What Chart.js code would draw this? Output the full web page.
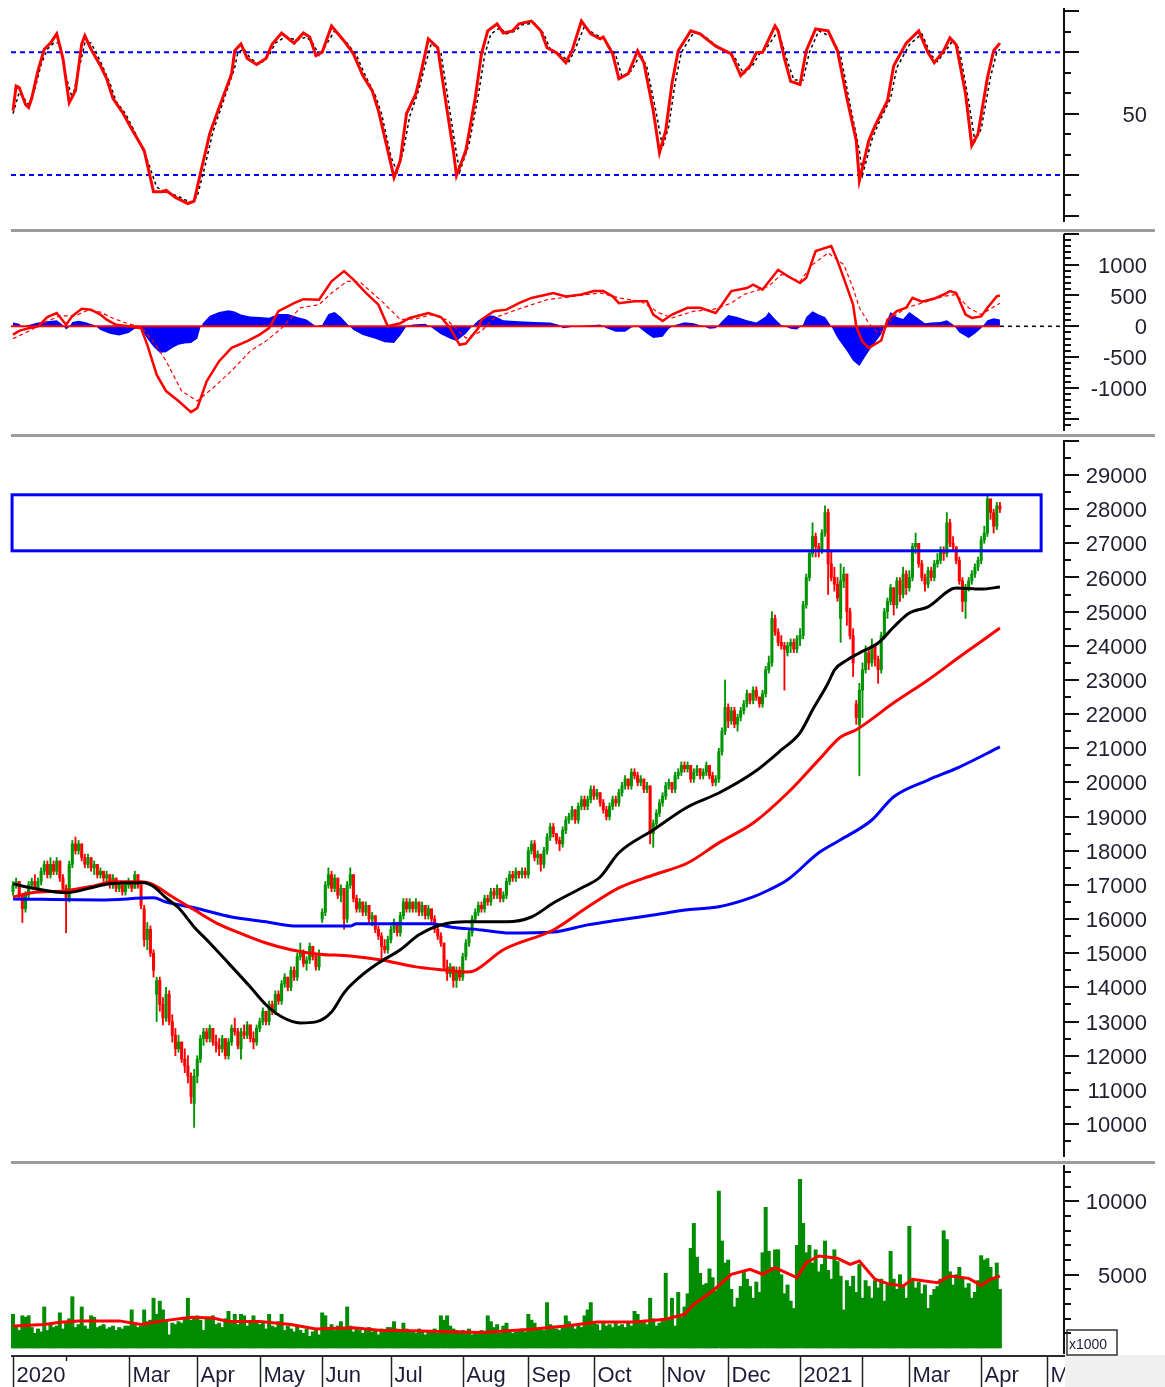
<!DOCTYPE html>
<html>
<head>
<meta charset="utf-8">
<title>Price chart</title>
<script src="https://cdn.jsdelivr.net/npm/chart.js@4.4.1/dist/chart.umd.min.js"></script>
<style>
body{margin:0;background:#fff;width:1165px;height:1387px;position:relative;overflow:hidden}
canvas{position:absolute;left:0}
.sep{position:absolute;left:11px;width:1144px;height:3px;background:#9c9c9c}
</style>
</head>
<body>
<canvas id="rsi" width="1165" height="229" style="top:0"></canvas>
<div class="sep" style="top:229px"></div>
<canvas id="macd" width="1165" height="202" style="top:232px"></canvas>
<div class="sep" style="top:434px"></div>
<canvas id="price" width="1165" height="724" style="top:437px"></canvas>
<div class="sep" style="top:1161px"></div>
<canvas id="vol" width="1165" height="223" style="top:1164px"></canvas>
<script>
// trading day index 0 = first session of Jan 2020
const monthStarts = [0, 17, 37, 59, 79, 99, 121, 144, 165, 186, 208, 229, 252, 272, 287, 310, 331]
const monthLabels = ["2020", "", "Mar", "Apr", "May", "Jun", "Jul", "Aug", "Sep", "Oct", "Nov", "Dec", "2021", "", "Mar", "Apr", "May"]

// daily candles, one line per month
const opens = [
16800,17000,17100,16700,16300,16700,17000,17100,16900,17100,17400,17600,17300,17600,17400,17700,17200,
16900,16600,17600,18200,18000,18200,17800,17600,17800,17500,17600,17300,17400,17200,17300,17000,17200,16900,17000,16800,
17000,17100,16900,17300,17000,16300,15400,15700,15000,13800,14200,13500,13100,13800,13000,12600,12200,12400,11900,11700,11400,10600,
11400,11900,12500,12700,12500,12800,12400,12300,12200,12500,12000,12400,12800,12700,12200,12700,12600,12900,12500,12400,
12800,13000,13300,13000,13500,13300,13800,13600,14100,14300,14000,14500,14300,14900,15000,14700,14800,15200,14900,14600,
16000,16200,17000,17300,16900,17200,16700,16900,16000,17000,17300,16600,16300,16500,16200,16400,16000,16100,15700,15500,15200,15100,
15400,15700,15900,15600,16100,16500,16300,16500,16300,16500,16200,16400,16100,16300,16000,15700,15500,15300,14600,14400,14600,14200,14500,
14300,14900,15300,15600,16000,16200,16400,16300,16600,16500,16800,16700,16900,16600,16700,17100,17300,17200,17400,17300,17400,
17300,18000,18200,17800,17900,17600,18000,18400,18700,18500,18300,18200,18600,18900,19000,19200,18900,19300,19500,19300,19500,
19800,19600,19700,19400,19200,19000,19300,19500,19400,19700,19900,20100,19900,20300,20200,20000,20100,19800,19900,18500,18800,19100,
19400,19600,19900,20000,19800,20200,20300,20500,20400,20500,20100,20300,20400,20200,20300,20500,20200,20000,20100,20900,21500,
22200,21800,22100,21700,21900,22100,22300,22600,22400,22700,22500,22300,22600,23300,23500,24800,24400,24100,24000,23800,24000,24100,23900,
24200,24300,25200,26000,26700,27200,26900,26800,27300,27900,26400,26000,25800,24800,25900,26100,25000,24300,22300,21700,
22700,23300,23800,23500,24000,23600,23300,24300,25000,25300,25700,25200,25900,25500,26100,
25700,26000,26900,27000,26400,26000,25800,26200,26000,26400,26500,26800,26700,27600,27000,26900,26500,25900,25300,25700,25900,26100,26300,
26500,27100,27300,28300,27900,27500,28100]
const highs = [
17100,17200,17100,16700,16800,17100,17200,17300,17200,17500,17700,17700,17800,17700,17800,17700,17300,
17000,17700,18300,18400,18300,18200,17900,17900,17800,17700,17600,17500,17400,17400,17300,17300,17200,17100,17000,17100,
17200,17100,17400,17300,17000,16400,15900,15800,15100,14300,14300,13700,14000,13900,13200,12800,12600,12400,12200,12000,11500,11600,
12000,12600,12800,12800,12900,12800,12600,12500,12600,12500,12500,12900,13100,12800,12800,12900,13000,12900,12700,12900,
13100,13400,13300,13600,13600,13900,13900,14200,14400,14300,14600,14600,15000,15300,15100,14900,15300,15200,15000,15100,
16300,17100,17500,17400,17300,17200,17000,16900,17100,17500,17300,16700,16600,16500,16500,16400,16200,16100,15800,15600,15400,15500,
15800,16000,15900,16200,16600,16600,16600,16500,16600,16500,16500,16400,16400,16300,16100,15800,15600,15300,14800,14700,14600,14600,14600,
15000,15400,15700,16100,16300,16500,16500,16700,16700,16900,16900,17000,16900,16800,17200,17400,17400,17500,17400,17500,17500,
18100,18300,18300,18000,17900,18100,18500,18800,18800,18500,18400,18700,19000,19100,19300,19200,19400,19600,19600,19600,19900,
19900,19800,19700,19500,19300,19400,19600,19600,19800,20000,20200,20100,20400,20400,20300,20200,20100,20000,19900,18900,19200,19500,
19700,20000,20100,20000,20300,20400,20600,20600,20600,20500,20400,20500,20400,20400,20600,20500,20300,20200,21000,21600,23000,
22300,22200,22200,22000,22200,22400,22700,22600,22800,22800,22500,22700,23400,23700,25000,24900,24500,24300,24100,24100,24200,24200,24300,
24500,25300,26100,26800,27600,27300,27000,27400,28100,28000,26800,26300,26000,26400,26300,26100,25100,24500,22400,22900,
23500,24000,23900,24200,24000,23700,24400,25100,25400,25800,25700,26000,26000,26300,26200,
26200,27000,27300,27000,26500,26100,26300,26300,26500,26700,26900,26900,27900,27700,27200,26900,26600,26000,25800,26000,26200,26400,26600,
27200,27500,28400,28300,28000,28200,28200]
const lows = [
16700,16900,16600,15900,16200,16600,16900,16900,16800,17000,17300,17200,17200,17300,17300,17100,16800,
15600,16500,17500,17900,17900,17700,17500,17500,17400,17300,17200,17200,17100,17100,16900,16900,16800,16800,16700,16700,
16900,16800,16900,16900,16300,15200,15100,14900,14300,13000,13300,12900,13000,12900,12400,12000,12100,11800,11500,11200,10600,9900,
11200,11800,12300,12400,12400,12300,12100,12000,12100,11900,11900,12300,12600,12200,11900,12500,12500,12400,12200,12300,
12700,12900,12900,12900,13200,13200,13500,13500,14000,13900,13900,14200,14200,14800,14600,14500,14700,14800,14500,14500,
15900,16100,16900,16800,16800,16600,16500,15700,15900,16900,16500,16200,16200,16100,16100,15900,15800,15600,15400,14800,15000,15000,
15300,15600,15500,15500,16000,16200,16200,16200,16200,16100,16100,16000,16000,15900,15600,15400,15200,14500,14200,14300,14000,14000,14200,
14200,14800,15200,15500,15900,16100,16200,16200,16400,16400,16600,16600,16500,16500,16600,17000,17100,17100,17200,17200,17200,
17200,17900,17700,17600,17400,17500,17900,18300,18400,18200,18000,18100,18500,18800,18900,18800,18800,19200,19200,19200,19400,
19500,19500,19300,19100,18900,18900,19200,19300,19300,19600,19800,19800,19800,20100,19900,19900,19700,19700,18200,18100,18700,19000,
19300,19500,19800,19700,19700,20100,20200,20300,20300,20000,20000,20200,20100,20100,20200,20100,19900,19900,20000,20800,21400,
21600,21700,21600,21500,21800,22000,22200,22300,22300,22400,22200,22200,22500,23200,23400,24300,24000,23900,22700,23700,23800,23800,23800,
24000,24200,25100,25900,26600,26600,26600,26700,27200,25500,25900,25600,25300,24100,25700,24600,24200,23100,21700,20200,
21900,23200,23300,23400,23400,22900,23200,24200,24800,25200,24900,25100,25300,25400,25500,
25600,25900,26700,26300,25900,25600,25700,25900,25900,26300,26400,26500,26600,26900,26800,26400,25800,25000,24800,25600,25800,26000,26200,
26400,27000,27200,27700,27300,27400,27900]
const closes = [
17000,17100,16700,16300,16700,17000,17100,16900,17100,17400,17600,17300,17600,17400,17700,17200,16900,
16600,17600,18200,18000,18200,17800,17600,17800,17500,17600,17300,17400,17200,17300,17000,17200,16900,17000,16800,17000,
17100,16900,17300,17000,16400,15400,15700,15000,14500,14200,13500,13100,13800,13000,12600,12200,12400,11900,11700,11400,10800,11400,
11900,12500,12700,12500,12800,12400,12300,12200,12500,12000,12400,12800,12700,12300,12700,12600,12900,12500,12400,12800,
13000,13300,13000,13500,13300,13800,13600,14100,14300,14000,14500,14300,14900,15000,14700,14800,15200,14900,14600,15000,
16200,17000,17300,16900,17200,16700,16900,16000,17000,17300,16600,16300,16500,16200,16400,16000,16100,15700,15500,15200,15100,15400,
15700,15900,15600,16100,16500,16300,16500,16300,16500,16200,16400,16100,16300,16000,15700,15500,15300,14600,14400,14600,14200,14500,14300,
14900,15300,15600,16000,16200,16400,16300,16600,16500,16800,16700,16900,16600,16700,17100,17300,17200,17400,17300,17400,17300,
18000,18200,17800,17900,17600,18000,18400,18700,18500,18300,18200,18600,18900,19000,19200,18900,19300,19500,19300,19500,19800,
19600,19700,19400,19200,19000,19300,19500,19400,19700,19900,20100,19900,20300,20200,20000,20100,19800,19900,18500,18800,19100,19400,
19600,19900,20000,19800,20200,20300,20500,20400,20500,20100,20300,20400,20200,20300,20500,20200,20000,20100,20900,21500,22200,
21800,22100,21700,21900,22100,22300,22600,22400,22700,22500,22300,22600,23300,23500,24800,24400,24100,24000,23900,24000,24100,23900,24200,
24300,25200,26000,26700,27200,26900,26800,27300,27900,26400,26000,25800,25400,25900,26100,25000,24300,23500,21900,22700,
23300,23800,23500,24000,23600,23300,24300,25000,25300,25700,25200,25900,25500,26100,25700,
26000,26900,27000,26400,26000,25800,26200,26000,26400,26500,26800,26700,27600,27000,26900,26500,25900,25300,25700,25900,26100,26300,26500,
27100,27300,28300,27900,27500,28100,28000]

// volume in thousands of shares
const volumes = [
2300,1500,1200,2200,2100,2200,1400,1000,1300,1100,2800,1200,1600,1400,1500,2400,1300,
1700,2000,3500,1400,1600,2800,1500,1300,2200,2100,1400,1500,1600,1300,1400,1500,1200,1400,1300,1500,
1500,2600,1700,1400,1500,2600,1800,1900,3400,2300,3200,2600,1800,900,1700,1600,1800,1700,2000,3400,1900,2100,
2200,1900,1200,2100,2000,2200,1600,1700,1400,2000,2500,1800,2300,1600,2300,2200,1500,1700,2200,1800,
1600,1700,1300,2300,1500,1400,1800,2300,1200,1500,1300,1100,1500,1200,1000,1300,800,1100,1200,900,
2400,2200,1400,1600,1200,1500,1800,1300,2800,1500,1100,1300,1200,1000,1300,1400,1100,1200,900,1300,1200,1400,
1400,1800,1300,1200,1700,1300,1100,1200,1000,1300,1100,900,1200,1100,1300,1000,2200,1900,2200,1500,1300,1200,1100,
1200,1100,1300,900,1000,1100,1200,1000,2200,1800,1400,1600,1000,1500,1700,1200,1000,1100,1200,1300,1100,
2300,1900,1700,1300,1400,1200,3100,1600,1500,1300,1200,1400,2200,1800,1500,1300,1600,1400,2200,2600,3100,
1800,1600,1200,1700,1500,1600,1400,1800,1500,1600,1400,1700,1500,2500,2300,1800,1900,1600,3400,2000,1500,1700,
2000,5100,1900,3400,1500,3800,2100,2800,3700,6800,8500,6200,5100,4300,4400,5400,4800,3900,10700,7300,5800,
6000,4000,2800,3400,4200,5300,4700,4200,3400,4500,3800,6500,9600,6600,5500,6700,6700,5000,3700,4300,3200,2700,7000,
11500,8500,6500,7000,5800,6700,5200,5700,7300,5300,4700,6700,5900,4900,2600,4600,4200,4900,3800,5700,
3400,4600,4200,3400,4600,4100,4700,3200,4300,6600,4700,4000,5000,4200,3400,
8300,4600,4100,4500,3700,4300,2700,3600,4000,4200,4700,8000,7400,5200,4300,5000,5500,4800,4100,4400,3400,3800,4600,
6300,6000,6100,5500,4800,5800,4000]
const volMaDays = [0,10,15,21,34,41,48,57,64,69,79,89,97,109,118,124,150,166,177,187,199,209,215,218,224,230,236,240,244,251,254,258,264,268,271,276,280,285,288,296,300,306,310,313,316]
const volMaValues = [1500,1600,1750,1850,1850,1600,1850,2100,2050,1800,1800,1600,1300,1380,1200,1200,1050,1280,1500,1770,1770,1960,2300,2980,3890,5030,5370,5030,5480,4800,5820,6280,6120,5710,5930,4690,4390,4230,4690,4460,4910,4750,4270,4690,4910]

// moving averages of the price
const blackMaDays = [0,6,17,26,31,42,45,49,53,58,63,69,76,81,86,92,97,102,106,111,117,124,130,137,145,158,166,173,182,188,194,205,216,226,237,246,252,256,261,263,267,271,277,282,287,293,302,310,316]
const blackMaValues = [17030,16910,16770,16940,17030,17060,16950,16620,16330,15770,15300,14710,14010,13490,13140,12960,12990,13280,13840,14300,14710,15100,15540,15830,15920,15920,16060,16470,16910,17230,17940,18610,19280,19690,20280,20950,21450,22120,22910,23290,23580,23790,24080,24550,24960,25140,25690,25660,25720]
const redMaDays = [0,6,17,26,32,41,45,51,58,65,74,81,89,97,108,118,129,138,145,148,157,173,184,194,205,216,226,237,248,258,265,270,282,293,303,316]
const redMaValues = [16650,16770,16830,16970,17090,17090,17000,16650,16270,15890,15540,15300,15100,14980,14920,14800,14600,14510,14450,14500,15100,15680,16350,16910,17290,17640,18230,18810,19690,20660,21330,21540,22330,23000,23670,24520]
const blueMaDays = [0,28,45,49,58,70,81,90,108,110,134,140,150,159,173,184,194,205,216,226,237,242,248,258,265,275,282,293,303,316]
const blueMaValues = [16590,16560,16620,16500,16330,16060,15920,15800,15800,15860,15860,15770,15680,15590,15620,15830,15970,16120,16270,16360,16650,16850,17150,17940,18320,18900,19580,20070,20450,21040]

// resistance zone
const zoneDays = [-0.3, 329.2]
const zonePrices = [26780, 28420]

// RSI
const rsiDays = [0,1,2,4,5,6,8,10,12,14,16,18,20,22,23,25,28,30,32,35,38,42,45,48,49,52,56,58,60,63,66,70,71,73,75,78,81,83,86,90,93,95,97,99,102,106,109,112,115,117,120,122,124,126,129,131,133,136,139,141,142,145,148,150,152,155,157,160,162,166,169,171,174,177,179,182,185,188,189,192,194,197,200,202,205,207,209,211,213,217,220,222,225,230,233,236,238,240,244,245,247,249,252,254,257,261,264,267,270,271,274,276,280,282,286,290,293,295,298,300,302,305,307,309,312,314,316]
const rsiValues = [51,59,58.5,53,52,55,64,71,73,76,68,53.6,57.5,72.7,75.4,71,65.6,61.4,55,50.5,45,38,24.5,24.5,25,22.7,20.7,21.5,30.5,43.5,52,63,70.5,72.7,68,66,68,72.7,76.3,73,76.3,75,68.9,70,78.6,73.7,69.5,62.4,57.5,51,38,29.2,34.7,50,56.5,65,74.4,71.5,51,38,29.8,38,55,69.5,77,79.3,76.3,77,79.3,80.2,77,71.5,69.9,66.6,70.5,80.2,76,74.4,75,69.5,61.4,63,70.5,66.6,51,37.3,44.5,59.8,70.5,77,76,74.4,72,69.5,62.4,65.6,69.9,70,78.6,77,68,60.5,59.5,70.5,77.6,77,70.5,55,41.2,28.2,41.2,46,54.2,65.6,73,77,69.8,66.6,70.5,74.7,72.5,56.5,39.6,43.5,61.7,70.5,73]
const rsiSigDays = [0,2,5,7,9,11,13,15,17,19,21,23,25,28,31,33,36,39,43,46,49,53,57,59,61,64,67,71,72,74,76,79,82,84,87,91,94,96,98,100,103,107,110,113,116,118,121,123,125,127,130,132,134,137,140,142,143,146,149,151,153,156,158,161,163,167,170,172,175,178,180,183,186,189,193,195,198,201,203,206,208,210,212,214,218,221,223,226,231,234,237,239,241,245,248,250,253,255,258,262,265,268,271,272,275,277,281,283,287,291,294,296,299,301,303,306,308,310,313,315,316]
const rsiSigValues = [50,57,53,58,66,71,73,73,62,55,64,73,73,67,60,54,50,44,35,26,24.5,23,21,23,31,44,53,65,70,71,68,66,69,73,75,74,75,73,69,72,77,73,69,62,56,50,36,31,38,49,58,66,73,70,50,37,31,40,56,69,76,78,76,77,79,79.5,76,71,69.5,67,71,78.5,76,74.5,69,62,64,69.5,65,50,39,46,60,70,76.5,75.5,74,71.5,68.5,63,66,69.5,71,77,67,61,61,70,77,75,69,53,38,30,41.5,46.5,55,65,72.5,76,69,67,71,74,71,54,41,45,62,70,71]
const rsiLevels = [70, 30]

// MACD
const macdDays = [0,2,5,8,11,14,17,19,22,25,28,30,33,37,41,43,46,49,53,57,59,62,66,70,75,79,82,85,90,93,98,102,106,109,113,117,120,124,127,133,137,140,143,145,149,150,154,158,162,166,171,173,177,182,186,189,192,194,199,203,205,208,211,216,220,225,227,230,235,237,240,245,248,252,254,257,262,264,266,269,270,272,274,278,280,283,286,288,291,295,298,300,302,305,307,310,312,315,316]
const macdValues = [-135,-75,-30,0,150,215,25,165,285,270,190,107,25,0,-30,-300,-785,-1050,-1210,-1390,-1325,-890,-565,-350,-240,-135,-30,245,375,440,430,730,895,755,540,350,0,50,135,215,150,-30,-300,-280,-30,110,245,270,375,460,515,540,485,515,570,570,485,375,405,405,190,85,190,300,300,215,350,570,620,675,595,915,815,700,785,1220,1300,1060,780,350,0,-250,-350,-230,107,245,300,460,400,450,515,570,540,190,135,160,300,485,500]
const signalDays = [0,5,10,15,20,24,28,32,37,41,45,49,54,59,64,70,76,81,86,92,98,102,107,111,118,124,129,134,139,145,150,154,163,171,179,188,194,201,207,211,218,224,230,234,239,242,246,252,256,261,266,269,271,274,277,279,282,286,291,298,302,306,310,316]
const signalValues = [-200,-80,60,170,170,260,230,130,40,-10,-250,-560,-1050,-1210,-1000,-720,-400,-240,-30,300,350,540,730,720,410,110,120,190,100,-190,-80,135,300,430,485,540,460,405,215,135,245,270,375,515,595,650,840,730,1000,1190,1000,620,300,50,-110,-60,160,300,375,485,515,300,190,375]
const histDays = [0,2,3,5,8,11,14,16,17,18,19,21,23,26,28,31,34,37,39,41,43,45,47,49,51,53,55,57,59,60,61,63,66,69,71,73,76,79,82,85,88,91,94,97,99,101,103,105,107,109,112,116,119,122,124,126,128,132,134,137,140,142,145,147,149,152,154,157,162,167,172,175,176,178,180,186,188,190,193,196,198,200,203,205,208,210,212,215,218,221,223,225,227,229,232,235,238,241,242,244,246,249,251,253,254,256,258,260,262,264,267,269,271,273,275,278,279,281,283,285,287,289,292,294,297,299,301,303,306,308,310,312,314,316]
const histValues = [60,40,-20,20,60,80,100,20,-50,-10,70,90,70,20,-60,-120,-150,-110,-40,-30,-200,-330,-430,-420,-350,-300,-280,-270,-200,-20,60,170,230,260,240,190,160,150,140,200,200,150,110,0,20,200,230,150,40,-60,-140,-200,-260,-270,-150,0,30,40,-20,-130,-200,-240,-120,0,100,180,170,100,80,70,60,20,-30,-20,0,20,30,-30,-90,-90,-20,0,-120,-190,-170,-40,20,65,50,0,-40,-30,80,185,150,100,60,160,230,120,20,-40,-50,30,150,245,190,150,0,-190,-400,-560,-645,-480,-330,-130,0,230,150,120,230,160,50,60,70,100,30,-100,-190,-120,-30,100,130,110]

// axis tick labels
const rsiLabels = [50]
const macdLabels = [1000, 500, 0, -500, -1000]
const priceLabels = [10000,11000,12000,13000,14000,15000,16000,17000,18000,19000,20000,21000,22000,23000,24000,25000,26000,27000,28000,29000]
const volLabels = [10000, 5000]

const XMIN = -0.64, XMAX = 336.2
const lastDay = closes.length - 1
const GREEN = "#009400", VOLGREEN = "#008c00", RED = "#ff0000", BLUE = "#0000ff"
const FONT = '22px "Liberation Sans", Arial, sans-serif'

function pts(days, vals){ return days.map((d, i) => ({x: d, y: vals[i]})) }
function range(a, b, step){ const r = []; for(let v = a; v <= b + 1e-9; v += step) r.push(v); return r }

function makeAxis(cfg){
  return {
    id: "rightAxis",
    afterDraw(chart){
      const {ctx, chartArea: a} = chart
      const y = chart.scales.y
      const ax = a.right + 1
      ctx.save()
      ctx.strokeStyle = "#111"
      ctx.lineWidth = 2
      ctx.beginPath()
      ctx.moveTo(ax, a.top + cfg.inset)
      ctx.lineTo(ax, a.bottom - cfg.inset)
      cfg.minor.forEach(v => { const p = Math.round(y.getPixelForValue(v)); ctx.moveTo(ax, p); ctx.lineTo(ax + 7, p) })
      cfg.major.forEach(v => { const p = Math.round(y.getPixelForValue(v)); ctx.moveTo(ax, p); ctx.lineTo(ax + 15, p) })
      ctx.stroke()
      ctx.fillStyle = "#1f1f2f"
      ctx.font = FONT
      ctx.textAlign = "right"
      ctx.textBaseline = "middle"
      cfg.labels.forEach(v => ctx.fillText(String(v), 1147, y.getPixelForValue(v) + 2))
      ctx.restore()
    }
  }
}

const zonePlugin = {
  id: "zone",
  afterDatasetsDraw(chart){
    const {ctx, scales: {x, y}} = chart
    const l = x.getPixelForValue(zoneDays[0]), r = x.getPixelForValue(zoneDays[1])
    const t = y.getPixelForValue(zonePrices[1]), b = y.getPixelForValue(zonePrices[0])
    ctx.save()
    ctx.strokeStyle = BLUE
    ctx.lineWidth = 3
    ctx.strokeRect(l, t, r - l, b - t)
    ctx.restore()
  }
}

const monthStrip = {
  id: "monthStrip",
  afterDraw(chart){
    const {ctx, chartArea: a, scales: {x}} = chart
    const top = a.bottom, h = chart.height
    ctx.save()
    ctx.fillStyle = "#2a2a2a"
    ctx.fillRect(a.left, top, a.right - a.left + 2, 2)
    ctx.strokeStyle = "#222"
    ctx.lineWidth = 1.5
    const xs = monthStarts.map(d => Math.round(x.getPixelForValue(d)) + 0.5)
    xs.forEach(px => { ctx.beginPath(); ctx.moveTo(px, top + 2); ctx.lineTo(px, h); ctx.stroke() })
    ctx.font = FONT
    ctx.textAlign = "left"
    ctx.textBaseline = "alphabetic"
    monthLabels.forEach((t, i) => {
      if(!t) return
      const w = ctx.measureText(t).width
      ctx.fillStyle = "#fff"
      ctx.fillRect(xs[i] + 1.5, top + 6, w + 5, h - top - 6)
      ctx.fillStyle = "#1c1c3a"
      ctx.fillText(t, xs[i] + 3, h - 5)
    })
    ctx.fillStyle = "#f0f0f0"
    ctx.fillRect(a.right + 2, top, chart.width - a.right, h - top)
    // units box
    ctx.strokeStyle = "#333"
    ctx.lineWidth = 1.5
    ctx.strokeRect(1067, top - 25, 50, 25)
    ctx.fillStyle = "#1c1c3a"
    ctx.font = '14px "Liberation Sans", Arial, sans-serif'
    ctx.fillText("x1000", 1069, top - 6)
    ctx.restore()
  }
}

function baseOptions(padding, yMin, yMax){
  return {
    responsive: false,
    animation: false,
    events: [],
    layout: {padding},
    plugins: {legend: {display: false}, tooltip: {enabled: false}},
    scales: {
      x: {type: "linear", min: XMIN, max: XMAX, display: false, offset: false},
      y: {type: "linear", min: yMin, max: yMax, display: false}
    }
  }
}

const line = (data, color, width, extra) => Object.assign({
  type: "line", data, borderColor: color, borderWidth: width, pointRadius: 0, fill: false, tension: 0
}, extra || {})

// RSI panel
new Chart(document.getElementById("rsi"), {
  type: "line",
  data: {datasets: [
    line(pts(rsiDays, rsiValues), RED, 3, {order: 0}),
    line(pts(rsiSigDays, rsiSigValues), "#000", 1.5, {order: 1, borderDash: [3, 3]}),
    ...rsiLevels.map(v => line([{x: XMIN, y: v}, {x: XMAX, y: v}], BLUE, 2, {order: 2, borderDash: [5, 4]}))
  ]},
  options: baseOptions({left: 11, right: 102, top: 4, bottom: 3}, 13.37, 85.75),
  plugins: [makeAxis({inset: 4, minor: range(50 - 100 / 3, 50 + 100 / 3, 20 / 3), major: [50 - 100 / 3, 30, 50, 70, 50 + 100 / 3], labels: rsiLabels})]
})

// MACD panel
new Chart(document.getElementById("macd"), {
  type: "line",
  data: {datasets: [
    line(pts(macdDays, macdValues), RED, 2.5, {order: 0}),
    line(pts(signalDays, signalValues), RED, 1.2, {order: 1, borderDash: [4, 3]}),
    line([{x: XMIN, y: 0}, {x: lastDay, y: 0}], RED, 2, {order: 2}),
    line([{x: lastDay, y: 0}, {x: XMAX, y: 0}], "#000", 1.5, {order: 2, borderDash: [4, 4]}),
    line(pts(histDays, histValues), BLUE, 0, {order: 3, fill: "origin", backgroundColor: BLUE})
  ]},
  options: baseOptions({left: 11, right: 102, top: 0, bottom: 1}, -1729, 1528),
  plugins: [makeAxis({inset: 2, minor: range(-1600, 1500, 100), major: range(-1500, 1500, 500), labels: macdLabels})]
})

// price panel
const candleColors = closes.map((c, i) => c >= opens[i] ? GREEN : RED)
new Chart(document.getElementById("price"), {
  type: "bar",
  data: {datasets: [
    line(pts(blackMaDays, blackMaValues), "#000", 3, {order: 0, cubicInterpolationMode: "monotone"}),
    line(pts(redMaDays, redMaValues), RED, 3, {order: 1, cubicInterpolationMode: "monotone"}),
    line(pts(blueMaDays, blueMaValues), BLUE, 3, {order: 2, cubicInterpolationMode: "monotone"}),
    {type: "bar", order: 3, grouped: false, barThickness: 2.4, borderWidth: 0,
     data: closes.map((c, i) => ({x: i, y: [opens[i], c]})), backgroundColor: candleColors},
    {type: "bar", order: 4, grouped: false, barThickness: 1.2, borderWidth: 0,
     data: closes.map((c, i) => ({x: i, y: [lows[i], highs[i]]})), backgroundColor: candleColors}
  ]},
  options: baseOptions({left: 11, right: 102, top: 0, bottom: 1}, 8946, 30112),
  plugins: [makeAxis({inset: 3, minor: range(9500, 29500, 1000), major: range(10000, 30000, 1000), labels: priceLabels}), zonePlugin]
})

// volume panel
new Chart(document.getElementById("vol"), {
  type: "bar",
  data: {datasets: [
    line(pts(volMaDays, volMaValues), RED, 3, {order: 0}),
    {type: "bar", order: 1, grouped: false, barThickness: 3.3, borderWidth: 0,
     data: volumes.map((v, i) => ({x: i, y: v})), backgroundColor: VOLGREEN}
  ]},
  options: baseOptions({left: 11, right: 102, top: 0, bottom: 32}, -477, 12551),
  plugins: [makeAxis({inset: 1, minor: range(1000, 12000, 1000), major: [5000, 10000], labels: volLabels}), monthStrip]
})
</script>
</body>
</html>
